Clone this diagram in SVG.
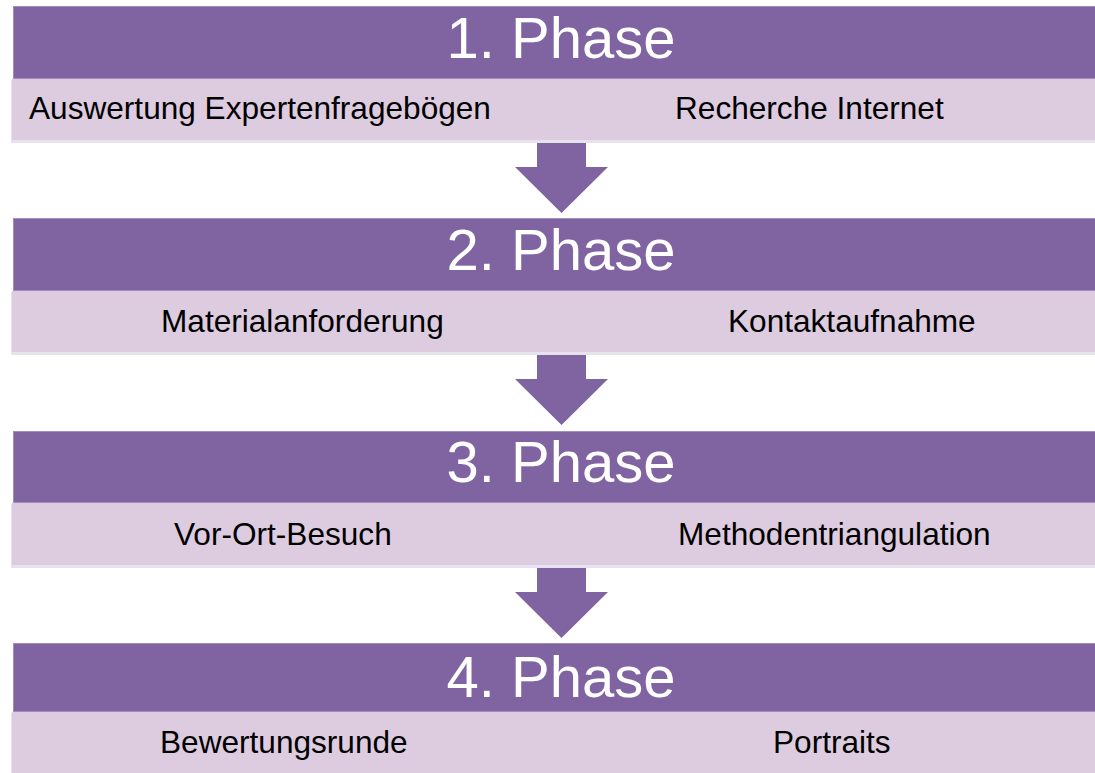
<svg xmlns="http://www.w3.org/2000/svg" width="1095" height="773" viewBox="0 0 1095 773">
<style>
.hdr{fill:#8064A2;stroke:#A38DBE;stroke-width:1}
.sub{fill:#DDCCE0}
.shadow{fill:#E6E3EE}
.arrow{fill:#8064A2}
.ht{font-family:"Liberation Sans",Arial,sans-serif;font-size:58px;fill:#FFFFFF;text-anchor:middle}
.st{font-family:"Liberation Sans",Arial,sans-serif;font-size:31.6px;fill:#000000}
</style>
<rect width="1095" height="773" fill="#FFFFFF"/>
<g id="connectors">
<polygon class="arrow" points="537,140 586,140 586,167 608,167 561.5,213 515,167 537,167"/>
<polygon class="arrow" points="537,352 586,352 586,379 608,379 561.5,425 515,379 537,379"/>
<polygon class="arrow" points="537,565 586,565 586,592 608,592 561.5,638 515,592 537,592"/>
</g>
<g id="phase1">
<rect class="shadow" x="11" y="80" width="1084" height="63"/>
<rect class="sub" x="12" y="79" width="1083" height="61"/>
<rect class="hdr" x="13.5" y="6.5" width="1082" height="72"/>
<text class="ht" x="561" y="58">1. Phase</text>
<text class="st" x="29" y="119">Auswertung Expertenfragebögen</text>
<text class="st" x="675" y="119">Recherche Internet</text>
</g>
<g id="phase2">
<rect class="shadow" x="11" y="292" width="1084" height="63"/>
<rect class="sub" x="12" y="291" width="1083" height="61"/>
<rect class="hdr" x="13.5" y="218.5" width="1082" height="72"/>
<text class="ht" x="561" y="270">2. Phase</text>
<text class="st" x="161" y="332">Materialanforderung</text>
<text class="st" x="728" y="332">Kontaktaufnahme</text>
</g>
<g id="phase3">
<rect class="shadow" x="11" y="504" width="1084" height="64"/>
<rect class="sub" x="12" y="503" width="1083" height="62"/>
<rect class="hdr" x="13.5" y="431.5" width="1082" height="71"/>
<text class="ht" x="561" y="482">3. Phase</text>
<text class="st" x="174" y="545">Vor-Ort-Besuch</text>
<text class="st" x="678" y="545">Methodentriangulation</text>
</g>
<g id="phase4">
<rect class="shadow" x="11" y="713" width="1084" height="60"/>
<rect class="sub" x="12" y="712" width="1083" height="61"/>
<rect class="hdr" x="13.5" y="643.5" width="1082" height="68"/>
<text class="ht" x="561" y="697">4. Phase</text>
<text class="st" x="160" y="753">Bewertungsrunde</text>
<text class="st" x="773" y="753">Portraits</text>
</g>
</svg>
